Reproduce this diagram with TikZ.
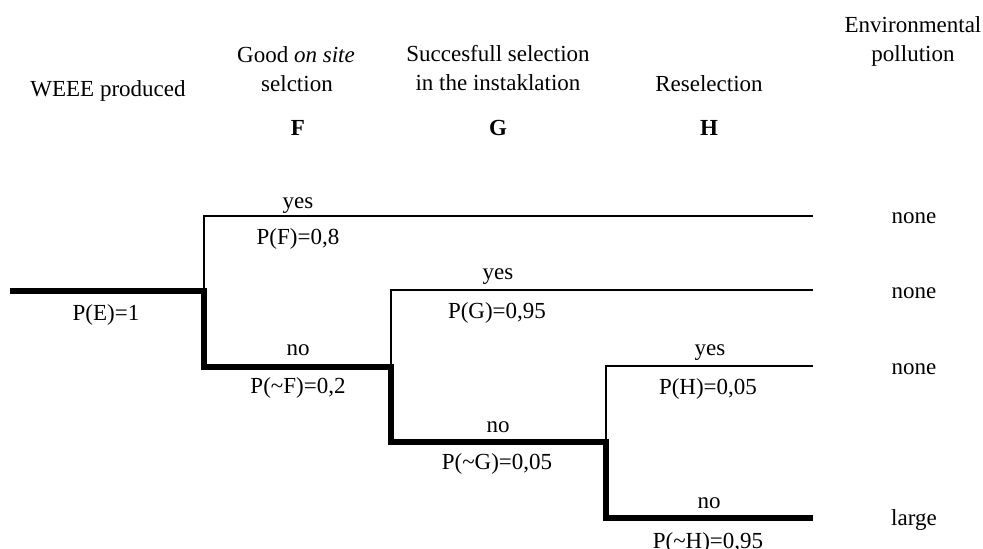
\documentclass[tikz,border=0pt]{standalone}
\usepackage{fontspec}
\setmainfont{Liberation Serif}
\begin{document}
\begin{tikzpicture}[x=1pt,y=-1pt,
  lbl/.style={anchor=base,inner sep=0pt,font=\fontsize{23}{28}\selectfont},
  thickbr/.style={line width=6pt,line join=miter,line cap=butt},
  thinbr/.style={line width=2.6pt,line join=miter,line cap=butt}]
\useasboundingbox (0,0) rectangle (983,549);
\clip (0,0) rectangle (983,549);
% branch points
\coordinate (E0) at (10,291);
\coordinate (F) at (204,291);
\coordinate (Fy) at (204,216);
\coordinate (Fn) at (204,367);
\coordinate (Fye) at (813,216);
\coordinate (G) at (391,367);
\coordinate (Gy) at (391,290);
\coordinate (Gn) at (391,442);
\coordinate (Gye) at (813,290);
\coordinate (H) at (606,442);
\coordinate (Hy) at (606,366);
\coordinate (Hn) at (606,518);
\coordinate (Hye) at (813,366);
\coordinate (Hne) at (813,518);
% thin (yes) branches
\draw[thinbr] (F) -- (Fy) -- (Fye);
\draw[thinbr] (G) -- (Gy) -- (Gye);
\draw[thinbr] (H) -- (Hy) -- (Hye);
% thick path
\draw[thickbr] (E0) -- (F) -- (Fn) -- (G) -- (Gn) -- (H) -- (Hn) -- (Hne);
% headers
\node[lbl] (hE) at (108,96) {WEEE produced};
\node[lbl] (hF1) at (296,62) {Good \textit{on site}};
\node[lbl] (hF2) at (297,91) {selction};
\node[lbl] (hFl) at (298,135) {\textbf{F}};
\node[lbl] (hG1) at (498,61) {Succesfull selection};
\node[lbl] (hG2) at (498,90) {in the instaklation};
\node[lbl] (hGl) at (498,135) {\textbf{G}};
\node[lbl] (hH1) at (709,91) {Reselection};
\node[lbl] (hHl) at (709,135) {\textbf{H}};
\node[lbl] (hP1) at (913,32) {Environmental};
\node[lbl] (hP2) at (913,61) {pollution};
% branch labels
\node[lbl] (pE) at (106,320) {P(E)=1};
\node[lbl] (yF) at (298,208) {yes};
\node[lbl] (pF) at (298,244) {P(F)=0,8};
\node[lbl] (nF) at (298,355) {no};
\node[lbl] (pnF) at (298,393) {P(\textasciitilde F)=0,2};
\node[lbl] (yG) at (498,279) {yes};
\node[lbl] (pG) at (497,318) {P(G)=0,95};
\node[lbl] (nG) at (498,432) {no};
\node[lbl] (pnG) at (497,469) {P(\textasciitilde G)=0,05};
\node[lbl] (yH) at (710,355) {yes};
\node[lbl] (pH) at (708,394) {P(H)=0,05};
\node[lbl] (nH) at (709,508) {no};
\node[lbl] (pnH) at (708,548) {P(\textasciitilde H)=0,95};
% outcomes
\node[lbl] (o1) at (914,223) {none};
\node[lbl] (o2) at (914,298) {none};
\node[lbl] (o3) at (914,374) {none};
\node[lbl] (o4) at (914,525) {large};
\end{tikzpicture}
\end{document}
